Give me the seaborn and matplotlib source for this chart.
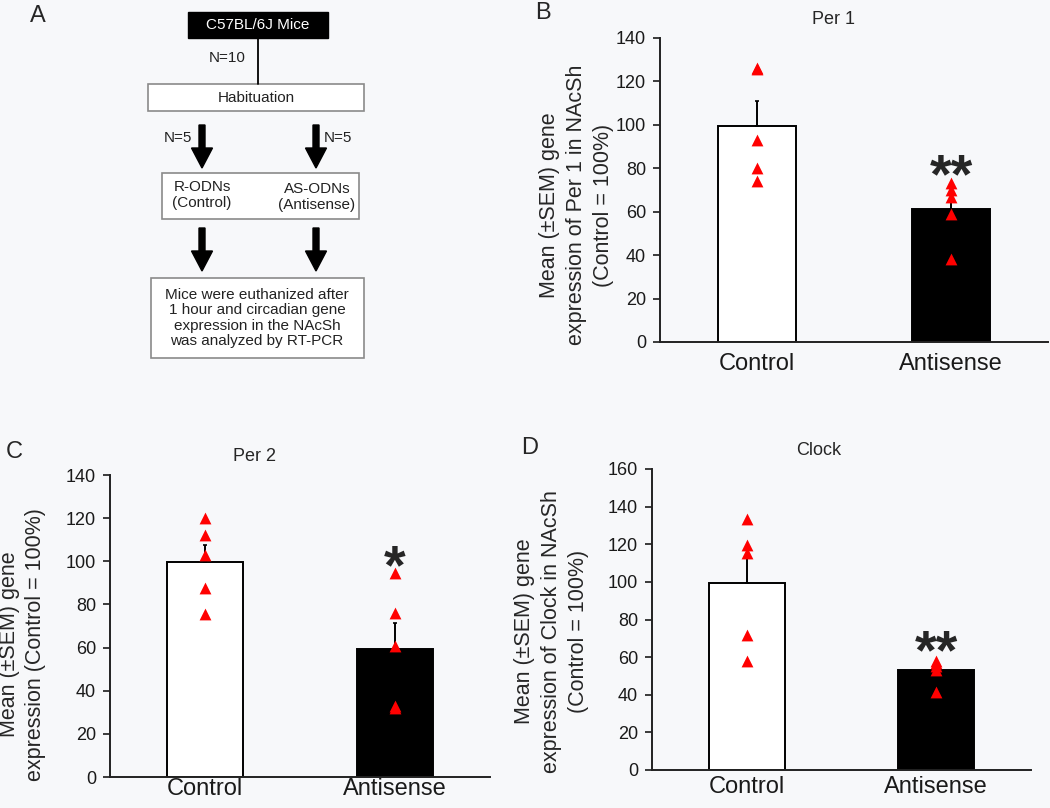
import pandas as pd
import numpy as np
import matplotlib
matplotlib.use("Agg")
import matplotlib.pyplot as plt
import seaborn as sns
from matplotlib.patches import Rectangle, FancyArrow

# values (% of control, one triangle per mouse)
groups = ['Control', 'Antisense']
per1_control = [126, 125.5, 93, 80, 74]
per1_antisense = [73, 70, 67, 59, 38]
per2_control = [120, 112, 103, 87.5, 75.5]
per2_antisense = [94.5, 76, 60.5, 33, 32]
clock_control = [133.5, 119.5, 115.5, 71.5, 58]
clock_antisense = [58, 57, 55.5, 53, 41.5]

bg = '#f7f8fa'
sns.set_style('ticks')
plt.rcParams['font.family'] = ['Liberation Sans', 'DejaVu Sans']
plt.rcParams['figure.facecolor'] = bg
plt.rcParams['axes.facecolor'] = bg


def make_frame(control, antisense):
    df = pd.DataFrame({'group': ['Control'] * len(control) + ['Antisense'] * len(antisense),
                       'value': control + antisense})
    return df


def draw_panel(ax, control, antisense, ymax, title, title_xy, ylabel, ylabel_xy, star, star_y,
               xpad=8):
    df = make_frame(control, antisense)
    stats = df.groupby('group', sort=False)['value'].agg(['mean', 'sem']).reindex(groups)
    sns.barplot(data=df, x='group', y='value', hue='group', order=groups, hue_order=groups,
                palette={'Control': 'white', 'Antisense': 'black'}, estimator='mean',
                errorbar=None, width=0.4, edgecolor='black', linewidth=1.4, legend=False, ax=ax)
    ax.errorbar([0, 1], stats['mean'], yerr=[[0, 0], stats['sem']], fmt='none',
                ecolor='black', elinewidth=1.4, capsize=1.5, capthick=1.2, zorder=4)
    sns.stripplot(data=df, x='group', y='value', order=groups, marker='^', color='red',
                  size=8.5, jitter=False, linewidth=0, ax=ax, zorder=5)
    ax.set_xlim(-0.5, 1.5)
    ax.set_ylim(0, ymax)
    ax.set_yticks(np.arange(0, ymax + 1, 20))
    ax.set_xlabel('')
    ax.set_ylabel('')
    sns.despine(ax=ax)
    for s in ['left', 'bottom']:
        ax.spines[s].set_linewidth(1.4)
        ax.spines[s].set_color('#222222')
    ax.tick_params(axis='y', direction='out', length=5, width=1.2, labelsize=13,
                   pad=5, colors='#1a1a1a')
    ax.tick_params(axis='x', length=0, labelsize=17, pad=xpad, colors='#1a1a1a')
    ax.text(title_xy[0], title_xy[1], title, transform=ax.transAxes, ha='center',
            va='center', fontsize=13, clip_on=False)
    ax.text(ylabel_xy[0], ylabel_xy[1], ylabel, transform=ax.transAxes, rotation=90,
            ha='center', va='center', multialignment='center', fontsize=15.5,
            linespacing=1.35)
    ax.text(1, star_y, star, ha='center', va='baseline', fontsize=40,
            fontweight='bold', zorder=6)


fig = plt.figure(figsize=(10.5, 8.08), dpi=100)

# panel A: the experiment flow chart, drawn in pixel units
ax_a = fig.add_axes([0, 0, 1, 1])
ax_a.set_xlim(0, 1050)
ax_a.set_ylim(808, 0)
ax_a.axis('off')
ax_a.add_patch(Rectangle((188, 12), 140, 26, facecolor='black', edgecolor='black'))
ax_a.text(258, 25, 'C57BL/6J Mice', color='white', ha='center', va='center', fontsize=11)
ax_a.plot([258, 258], [38, 84], color='black', lw=1.3)
ax_a.text(227, 58, 'N=10', ha='center', va='center', fontsize=11, color='#222222')
ax_a.add_patch(Rectangle((148, 84), 216, 27, facecolor='white', edgecolor='#8a8a8a', lw=1.2))
ax_a.text(256, 97.5, 'Habituation', ha='center', va='center', fontsize=11, color='#222222')
for x in [202, 316]:
    ax_a.add_patch(FancyArrow(x, 125, 0, 43, width=6, head_width=21, head_length=20,
                              length_includes_head=True, color='black'))
    ax_a.add_patch(FancyArrow(x, 228, 0, 43, width=6, head_width=21, head_length=20,
                              length_includes_head=True, color='black'))
ax_a.text(178, 138, 'N=5', ha='center', va='center', fontsize=11, color='#222222')
ax_a.text(338, 138, 'N=5', ha='center', va='center', fontsize=11, color='#222222')
ax_a.add_patch(Rectangle((162, 173), 197, 46, facecolor='white', edgecolor='#8a8a8a', lw=1.2))
ax_a.text(202, 195, 'R-ODNs\n(Control)', ha='center', va='center', fontsize=11,
          color='#222222', linespacing=1.15)
ax_a.text(317, 197, 'AS-ODNs\n(Antisense)', ha='center', va='center', fontsize=11,
          color='#222222', linespacing=1.15)
ax_a.add_patch(Rectangle((151, 278), 213, 80, facecolor='white', edgecolor='#8a8a8a', lw=1.2))
ax_a.text(257, 318, 'Mice were euthanized after\n1 hour and circadian gene\n'
          'expression in the NAcSh\nwas analyzed by RT-PCR', ha='center', va='center',
          fontsize=11, color='#222222', linespacing=1.15)

# panel letters
for lab, x, y in [('A', 38, 16), ('B', 543, 13), ('C', 14, 452), ('D', 530, 448)]:
    fig.text(x / 1050, 1 - y / 808, lab, ha='center', va='center', fontsize=17)

ax_b = fig.add_axes([660 / 1050, 1 - 342 / 808, 388 / 1050, 304 / 808])
draw_panel(ax_b, per1_control, per1_antisense, 140, 'Per 1', (0.446, 1.06),
           'Mean (\u00b1SEM) gene\nexpression of Per 1 in NAcSh\n(Control = 100%)',
           (-0.215, 0.45), '**', 69)

ax_c = fig.add_axes([110 / 1050, 1 - 777 / 808, 380 / 1050, 302 / 808])
draw_panel(ax_c, per2_control, per2_antisense, 140, 'Per 2', (0.38, 1.06),
           'Mean (\u00b1SEM) gene\nexpression (Control = 100%)',
           (-0.23, 0.44), '*', 90, xpad=1)

ax_d = fig.add_axes([652 / 1050, 1 - 770 / 808, 379 / 1050, 301 / 808])
draw_panel(ax_d, clock_control, clock_antisense, 160, 'Clock', (0.44, 1.06),
           'Mean (\u00b1SEM) gene\nexpression of Clock in NAcSh\n(Control = 100%)',
           (-0.265, 0.46), '**', 54, xpad=4)

fig.savefig('out.png', dpi=100, facecolor=bg)
